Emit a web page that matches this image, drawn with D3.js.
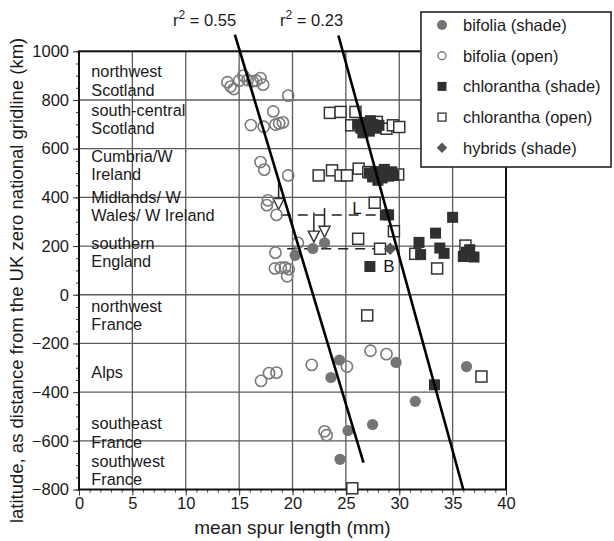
<!DOCTYPE html>
<html><head><meta charset="utf-8">
<script src="https://cdn.jsdelivr.net/npm/d3@7/dist/d3.min.js"></script>
<style>body{margin:0;background:#fff;} text{font-family:"Liberation Sans",Arial,Helvetica,sans-serif;fill:#1a1a1a;}</style>
</head><body><svg id="c" width="614" height="541"></svg>
<script>
// ---------- data ----------
const xTicks = [0,5,10,15,20,25,30,35,40];
const yTicks = [-800,-600,-400,-200,0,200,400,600,800,1000];
const legendLabels = ["bifolia (shade)","bifolia (open)","chlorantha (shade)","chlorantha (open)","hybrids (shade)"];
const bifoliaShade = [[20.25,162],[21.9,190],[23.0,213],[24.4,-268],[23.6,-340],[29.7,-278],[36.3,-295],[31.5,-438],[25.2,-558],[27.5,-533],[24.45,-676]];
const bifoliaOpen = [[13.9,873],[14.2,855],[14.5,845],[15.0,879],[15.4,900],[15.8,882],[16.25,877],[16.6,879],[17.0,890],[17.25,863],
  [19.6,818],[18.2,753],[16.1,697],[17.3,690],[18.4,699],[18.75,704],[19.1,708],
  [17.0,545],[17.35,514],[19.6,490],[17.7,388],[17.6,368],[18.5,328],
  [18.4,173],[18.35,108],[18.9,111],[19.3,112],[19.65,105],[19.5,76],[20.5,213],
  [17.05,-354],[17.8,-322],[18.5,-320],[21.8,-288],[25.1,-295],[27.3,-230],[28.8,-244],[23.0,-561],[23.2,-577]];
const chloranthaShade = [[26.1,700],[26.4,684],[26.7,708],[26.9,690],[27.2,672],[27.5,700],[27.8,684],[26.6,665],[27.3,715],[28.1,696],
  [27.2,500],[27.5,484],[27.8,506],[28.1,490],[28.4,480],[28.7,500],[29.0,487],[29.3,505],[28.0,470],[28.6,515],[29.5,490],
  [28.7,328],[29.0,328],[35.0,318],[33.4,253],[31.85,215],[32.0,165],[33.8,192],[34.2,170],[36.0,157],[36.6,185],[37.0,155],[36.3,175],
  [27.25,116],[33.3,-370]];
const chloranthaOpen = [[23.5,747],[24.5,751],[25.9,751],[25.5,696],[27.9,710],[28.8,682],[29.4,696],[30.0,689],
  [22.45,490],[23.7,511],[24.5,490],[25.1,490],[26.2,518],[27.1,504],[29.9,494],
  [27.7,378],[29.5,261],[26.15,230],[28.2,189],[31.5,168],[33.55,108],[36.2,202],[37.7,-336],[27.0,-85],[25.6,-795]];
const hybridsShade = [[29.15,189]];
const regressionLines = [{label:"0.55", from:[14.6,1069], to:[26.65,-690]}, {label:"0.23", from:[24.3,1065], to:[36.0,-800]}];
const arrows = [{x:18.7, top:458, tip:350},{x:22.0, top:338, tip:216},{x:23.0, top:356, tip:236}];
const meanLines = [{label:"L", lat:328, x0:18.9, x1:28.5, lx:25.6, ly:333},{label:"B", lat:189, x0:19.5, x1:29.1, lx:28.5, ly:92}];
const regionLabels = [
 {lines:["northwest","Scotland"], lat:919},
 {lines:["south-central","Scotland"], lat:759},
 {lines:["Cumbria/W","Ireland"], lat:570},
 {lines:["Midlands/ W","Wales/ W Ireland"], lat:402},
 {lines:["southern","England"], lat:213},
 {lines:["northwest","France"], lat:-46},
 {lines:["Alps"], lat:-317},
 {lines:["southeast","France"], lat:-527},
 {lines:["southwest","France"], lat:-682}];

// ---------- chart ----------
const svg = d3.select("#c");
const L=79,R=506,T=51.3,B=489.5;
const x = d3.scaleLinear().domain([0,40]).range([L,R]);
const y = d3.scaleLinear().domain([-800,1000]).range([B,T]);
const gridC="#5a5a5a";
const grayFill="#747474", darkFill="#303030";

// grid
svg.append("g").selectAll("line").data(xTicks.slice(1,-1)).join("line")
  .attr("x1",d=>x(d)).attr("x2",d=>x(d)).attr("y1",T).attr("y2",B).attr("stroke",gridC).attr("stroke-width",1.3);
svg.append("g").selectAll("line").data(yTicks.slice(1,-1)).join("line")
  .attr("y1",d=>y(d)).attr("y2",d=>y(d)).attr("x1",L).attr("x2",R).attr("stroke",gridC).attr("stroke-width",1.3);

// axes
const xAxis = d3.axisBottom(x).tickValues(xTicks).tickSize(6).tickPadding(2).tickFormat(d3.format("d"));
const xMinor = d3.axisBottom(x).tickValues(d3.range(0,41,1)).tickSize(3).tickFormat("");
const yAxis = d3.axisLeft(y).tickValues(yTicks).tickSize(6).tickPadding(4).tickFormat(d3.format("d"));
const yMinor = d3.axisLeft(y).tickValues(d3.range(-800,1001,50)).tickSize(3).tickFormat("");
const gx = svg.append("g").attr("transform",`translate(0,${B})`).call(xAxis);
svg.append("g").attr("transform",`translate(0,${B})`).call(xMinor).select(".domain").remove();
const gy = svg.append("g").attr("transform",`translate(${L},0)`).call(yAxis);
svg.append("g").attr("transform",`translate(${L},0)`).call(yMinor).select(".domain").remove();
[gx,gy].forEach(g=>{g.select(".domain").remove(); g.selectAll("text").attr("font-size",16.5).attr("fill","#1a1a1a").style("font-family","Liberation Sans, Arial, sans-serif");});
svg.selectAll(".tick line").attr("stroke","#333").attr("stroke-width",1);
gx.selectAll("text").attr("dy","0.72em");
svg.append("rect").attr("x",L).attr("y",T).attr("width",R-L).attr("height",B-T).attr("fill","none").attr("stroke","#111").attr("stroke-width",2);

// region labels
const rg = svg.append("g");
regionLabels.forEach(r=>{
  const t = rg.append("text").attr("x",x(1.15)).attr("y",y(r.lat)+6).attr("font-size",16.3);
  r.lines.forEach((ln,i)=>t.append("tspan").attr("x",x(1.15)).attr("dy",i?18.5:0).text(ln));
});

// mean dashed lines
meanLines.forEach(m=>{
  svg.append("line").attr("x1",x(m.x0)).attr("x2",x(m.x1)).attr("y1",y(m.lat)).attr("y2",y(m.lat))
    .attr("stroke","#222").attr("stroke-width",1.5).attr("stroke-dasharray","10,7");
  svg.append("text").attr("x",x(m.lx)).attr("y",y(m.ly)).attr("font-size",17).text(m.label);
});

// arrows
arrows.forEach(a=>{
  svg.append("line").attr("x1",x(a.x)).attr("x2",x(a.x)).attr("y1",y(a.top)).attr("y2",y(a.tip)-10).attr("stroke","#222").attr("stroke-width",1.5);
  const tx=x(a.x), ty=y(a.tip);
  svg.append("path").attr("d",`M${tx-5.5},${ty-11}L${tx+5.5},${ty-11}L${tx},${ty}Z`).attr("fill","#fff").attr("stroke","#333").attr("stroke-width",1.4);
});

// points
const r0=5.6, s0=11;
svg.append("g").selectAll("circle").data(bifoliaOpen).join("circle")
  .attr("cx",d=>x(d[0])).attr("cy",d=>y(d[1])).attr("r",r0).attr("fill","none").attr("stroke","#7a7a7a").attr("stroke-width",1.6);
svg.append("g").selectAll("rect").data(chloranthaOpen).join("rect")
  .attr("x",d=>x(d[0])-s0/2).attr("y",d=>y(d[1])-s0/2).attr("width",s0).attr("height",s0).attr("fill","#fff").attr("stroke","#333").attr("stroke-width",1.5);
svg.append("g").selectAll("rect").data(chloranthaShade).join("rect")
  .attr("x",d=>x(d[0])-s0/2).attr("y",d=>y(d[1])-s0/2).attr("width",s0).attr("height",s0).attr("fill",darkFill);
svg.append("g").selectAll("circle").data(bifoliaShade).join("circle")
  .attr("cx",d=>x(d[0])).attr("cy",d=>y(d[1])).attr("r",r0).attr("fill",grayFill);
svg.append("g").selectAll("path").data(hybridsShade).join("path")
  .attr("d",d3.symbol(d3.symbolSquare, 80))
  .attr("transform",d=>`translate(${x(d[0])},${y(d[1])}) rotate(45)`).attr("fill","#555");

// regression lines
regressionLines.forEach(l=>{
  svg.append("line").attr("x1",x(l.from[0])).attr("y1",y(l.from[1])).attr("x2",x(l.to[0])).attr("y2",y(l.to[1]))
    .attr("stroke","#000").attr("stroke-width",2.6);
});
const rl = [{x:173,label:regressionLines[0].label},{x:280,label:regressionLines[1].label}];
rl.forEach(o=>{
  const t = svg.append("text").attr("x",o.x).attr("y",26).attr("font-size",16.5);
  t.append("tspan").text("r");
  t.append("tspan").attr("dy",-7).attr("font-size",12).text("2");
  t.append("tspan").attr("dy",7).text(" = "+o.label);
});

// axis titles
svg.append("text").attr("x",(L+R)/2).attr("y",534).attr("text-anchor","middle").attr("font-size",19).text("mean spur length (mm)");
svg.append("text").attr("transform",`translate(23,${(T+B)/2+10}) rotate(-90)`).attr("text-anchor","middle").attr("font-size",18.5)
  .text("latitude, as distance from the UK zero national gridline (km)");

// legend
const lg = svg.append("g");
lg.append("rect").attr("x",421).attr("y",12).attr("width",190).attr("height",155).attr("fill","#fff").attr("stroke","#222").attr("stroke-width",1.6);
legendLabels.forEach((lab,i)=>{
  const cy = 25 + i*30.7, cx=442;
  if(i===0) lg.append("circle").attr("cx",cx).attr("cy",cy).attr("r",5).attr("fill",grayFill);
  if(i===1) lg.append("circle").attr("cx",cx).attr("cy",cy).attr("r",4).attr("fill","none").attr("stroke","#7a7a7a").attr("stroke-width",1.4);
  if(i===2) lg.append("rect").attr("x",cx-4.5).attr("y",cy-4.5).attr("width",9).attr("height",9).attr("fill",darkFill);
  if(i===3) lg.append("rect").attr("x",cx-4).attr("y",cy-4).attr("width",8).attr("height",8).attr("fill","#fff").attr("stroke","#333").attr("stroke-width",1.3);
  if(i===4) lg.append("path").attr("d",d3.symbol(d3.symbolSquare,56)).attr("transform",`translate(${cx},${cy}) rotate(45)`).attr("fill","#555");
  lg.append("text").attr("x",463).attr("y",cy+6).attr("font-size",16.5).text(lab);
});
</script></body></html>
